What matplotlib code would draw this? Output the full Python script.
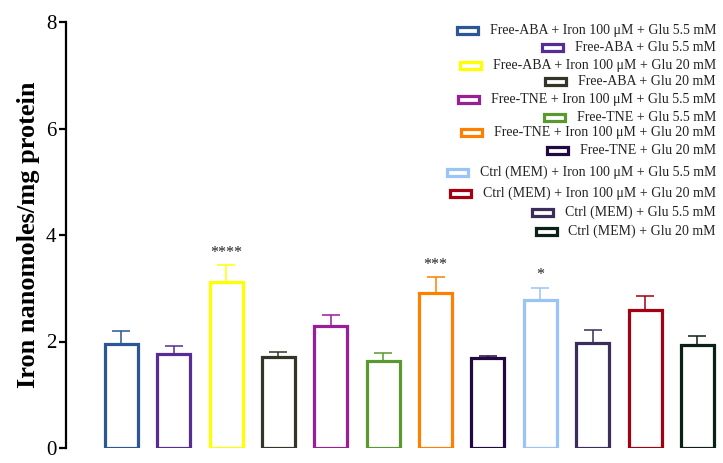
import matplotlib
matplotlib.use("Agg")
import matplotlib.pyplot as plt
from matplotlib.patches import Rectangle

plt.rcParams['font.family'] = ['Liberation Serif', 'DejaVu Serif']

# Group labels (bar order), means and SEM (upper error only)
groups = [
    "Free-ABA + Iron 100 \u03bcM + Glu 5.5 mM",
    "Free-ABA + Glu 5.5 mM",
    "Free-ABA + Iron 100 \u03bcM + Glu 20 mM",
    "Free-ABA + Glu 20 mM",
    "Free-TNE + Iron 100 \u03bcM + Glu 5.5 mM",
    "Free-TNE + Glu 5.5 mM",
    "Free-TNE + Iron 100 \u03bcM + Glu 20 mM",
    "Free-TNE + Glu 20 mM",
    "Ctrl (MEM) + Iron 100 \u03bcM + Glu 5.5 mM",
    "Ctrl (MEM) + Glu 5.5 mM",
    "Ctrl (MEM) + Iron 100 \u03bcM + Glu 20 mM",
    "Ctrl (MEM) + Glu 20 mM",
]
means = [1.95, 1.77, 3.12, 1.70, 2.30, 1.64, 2.92, 1.69, 2.77, 1.97, 2.60, 1.93]
sems = [0.25, 0.14, 0.32, 0.10, 0.20, 0.14, 0.29, 0.04, 0.24, 0.25, 0.25, 0.17]
stars = ["", "", "****", "", "", "", "***", "", "*", "", "", ""]
colors = ["#2B5797", "#582C95", "#FFFF00", "#323628", "#991E99", "#5A992E",
          "#FF8000", "#22093F", "#9AC4F8", "#3C2D5A", "#A50011", "#0A2216"]
# legend lists the two last Ctrl groups in swapped order
legend_order = [0, 1, 2, 3, 4, 5, 6, 7, 8, 10, 9, 11]

W, H = 723, 463
fig = plt.figure(figsize=(W / 100, H / 100), dpi=100)
ax = fig.add_axes([66 / W, 1 - 448 / H, (720 - 66) / W, (448 - 22) / H])

x = list(range(len(means)))
for i in x:
    ax.bar(i, means[i], width=0.63, facecolor="white", edgecolor=colors[i],
           linewidth=2.3, zorder=2)
    ax.errorbar(i, means[i], yerr=[[0], [sems[i]]], fmt="none",
                ecolor=colors[i], elinewidth=1.3, capsize=6.5, capthick=1.3,
                alpha=0.85, zorder=1)
    if stars[i]:
        ax.text(i, means[i] + sems[i] + 0.08, stars[i], ha="center",
                va="bottom", fontsize=11.5, color="#222222")

ax.set_ylim(0, 8)
ax.set_xlim(-1.056, 11.43)
ax.set_yticks([0, 2, 4, 6, 8])
ax.set_xticks([])
for s in ["top", "right", "bottom"]:
    ax.spines[s].set_visible(False)
ax.spines["left"].set_linewidth(1.6)
ax.tick_params(axis="y", length=5, width=1.6, labelsize=15, pad=2)
ax.set_ylabel("Iron nanomoles/mg protein", fontsize=19, fontweight="bold",
              labelpad=4)

# Legend: right-aligned labels with an outlined swatch before each label
text_right = 716
row_y = [30.7, 47.7, 65.3, 81.3, 99.3, 117.3, 132.7, 150.7, 172, 193.3, 212, 231]
renderer = fig.canvas.get_renderer()
for k, gi in enumerate(legend_order):
    yy = row_y[k]
    t = fig.text(text_right / W, 1 - yy / H, groups[gi], ha="right",
                 va="center", fontsize=10, color="#222222")
    bb = t.get_window_extent(renderer=renderer)
    left_px = bb.x0
    sw, sh, gap = 21, 7, 12
    rect = Rectangle(((left_px - gap - sw) / W, 1 - (yy + sh / 2) / H),
                     sw / W, sh / H, transform=fig.transFigure,
                     facecolor="white", edgecolor=colors[gi], linewidth=2.3)
    fig.patches.append(rect)

fig.savefig("out.png", dpi=100)
